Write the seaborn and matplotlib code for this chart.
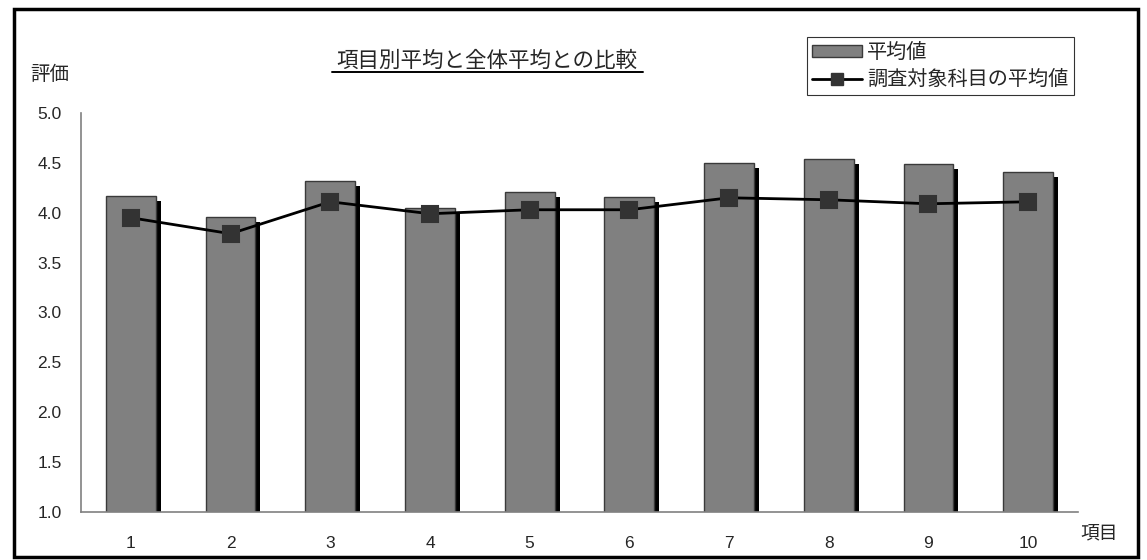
import numpy as np
import pandas as pd
import matplotlib
matplotlib.use("Agg")
import matplotlib.pyplot as plt
import seaborn as sns
from matplotlib.transforms import ScaledTranslation
from matplotlib.patches import Rectangle, Patch
from matplotlib.lines import Line2D

items = ["1", "2", "3", "4", "5", "6", "7", "8", "9", "10"]
item_avg = [4.17, 3.96, 4.32, 4.05, 4.21, 4.16, 4.50, 4.54, 4.49, 4.41]
subject_avg = [3.95, 3.79, 4.11, 3.99, 4.03, 4.03, 4.15, 4.13, 4.09, 4.11]
y_ticks = [1.0, 1.5, 2.0, 2.5, 3.0, 3.5, 4.0, 4.5, 5.0]

title = "項目別平均と全体平均との比較"
ylabel = "評価"
xlabel = "項目"
bar_label = "平均値"
line_label = "調査対象科目の平均値"

sns.set_theme(style="white")
plt.rcParams["font.family"] = ["Liberation Sans", "Noto Sans CJK JP", "DejaVu Sans"]
jp = ["Noto Sans CJK JP", "DejaVu Sans"]

df = pd.DataFrame({"item": items, "avg": item_avg, "subj": subject_avg})

W, H = 1147, 560
fig = plt.figure(figsize=(W / 100, H / 100), dpi=100)
ax = fig.add_axes([81 / W, (H - 512) / H, (1078 - 81) / W, (512 - 113) / H])

# shadow bars
sns.barplot(data=df, x="item", y="avg", order=items, color="black", width=0.5,
            ax=ax, saturation=1, edgecolor="none", linewidth=0)
n_shadow = len(ax.patches)
off = ScaledTranslation(5 / 100, -5 / 100, fig.dpi_scale_trans)
for p in ax.patches[:n_shadow]:
    p.set_transform(ax.transData + off)
    p.set_zorder(1)

sns.barplot(data=df, x="item", y="avg", order=items, color="#808080", width=0.5,
            ax=ax, saturation=1, edgecolor="#3a3a3a", linewidth=1.0)
for p in ax.patches[n_shadow:]:
    p.set_zorder(2)

sns.pointplot(data=df, x="item", y="subj", order=items, color="black",
              markers="s", linestyles="-", ax=ax, linewidth=2, markersize=11)
for ln in ax.lines:
    ln.set_markerfacecolor("#333333")
    ln.set_markeredgecolor("#333333")
    ln.set_zorder(4)

ax.set_ylim(1.0, 5.0)
ax.set_xlim(-0.5, len(items) - 0.5)
ax.set_yticks(y_ticks)
ax.set_yticklabels([f"{v:.1f}" for v in y_ticks], fontsize=12.5)
ax.set_xticks(range(len(items)))
ax.set_xticklabels(items, fontsize=12.5)
ax.set_xticks(np.arange(-0.5, len(items), 1.0), minor=True)
ax.tick_params(axis="x", which="major", length=0, pad=17)
ax.tick_params(axis="x", which="minor", direction="in", length=5, color="#808080", width=1)
ax.tick_params(axis="y", direction="in", length=5, color="#808080", width=1, pad=14)
ax.set_xlabel("")
ax.set_ylabel("")
for s in ["top", "right"]:
    ax.spines[s].set_visible(False)
for s in ["left", "bottom"]:
    ax.spines[s].set_color("#808080")
    ax.spines[s].set_linewidth(1.2)
ax.spines["bottom"].set_zorder(5)

# texts
fig.text(487 / W, 1 - 61 / H, title, ha="center", va="center", fontsize=15.5, family=jp)
fig.add_artist(Line2D([332 / W, 643 / W], [1 - 72 / H, 1 - 72 / H], color="black", lw=1.4))
fig.text(50 / W, 1 - 75 / H, ylabel, ha="center", va="center", fontsize=14, family=jp)
fig.text(1099 / W, 1 - 533 / H, xlabel, ha="center", va="center", fontsize=13.5, family=jp)

handles = [Patch(facecolor="#808080", edgecolor="#3a3a3a", linewidth=1.0),
           Line2D([0], [0], color="black", lw=2, marker="s", markersize=9,
                  markerfacecolor="#333333", markeredgecolor="#333333")]
leg = fig.legend(handles, [bar_label, line_label], loc="upper left",
                 bbox_to_anchor=(807 / W, 1 - 37 / H), frameon=True, fancybox=False,
                 prop={"family": jp, "size": 14.5}, handlelength=2.5, handleheight=0.5,
                 handletextpad=0.25, borderpad=0.25, labelspacing=0.3, borderaxespad=0)
leg.get_frame().set_edgecolor("black")
leg.get_frame().set_linewidth(0.8)

fig.add_artist(Rectangle((13.5 / W, 1 - 557 / H), (1138 - 13.5) / W, (557 - 8.5) / H,
                         transform=fig.transFigure, fill=False, edgecolor="black", lw=2.5))

fig.savefig("out.png", dpi=100)
